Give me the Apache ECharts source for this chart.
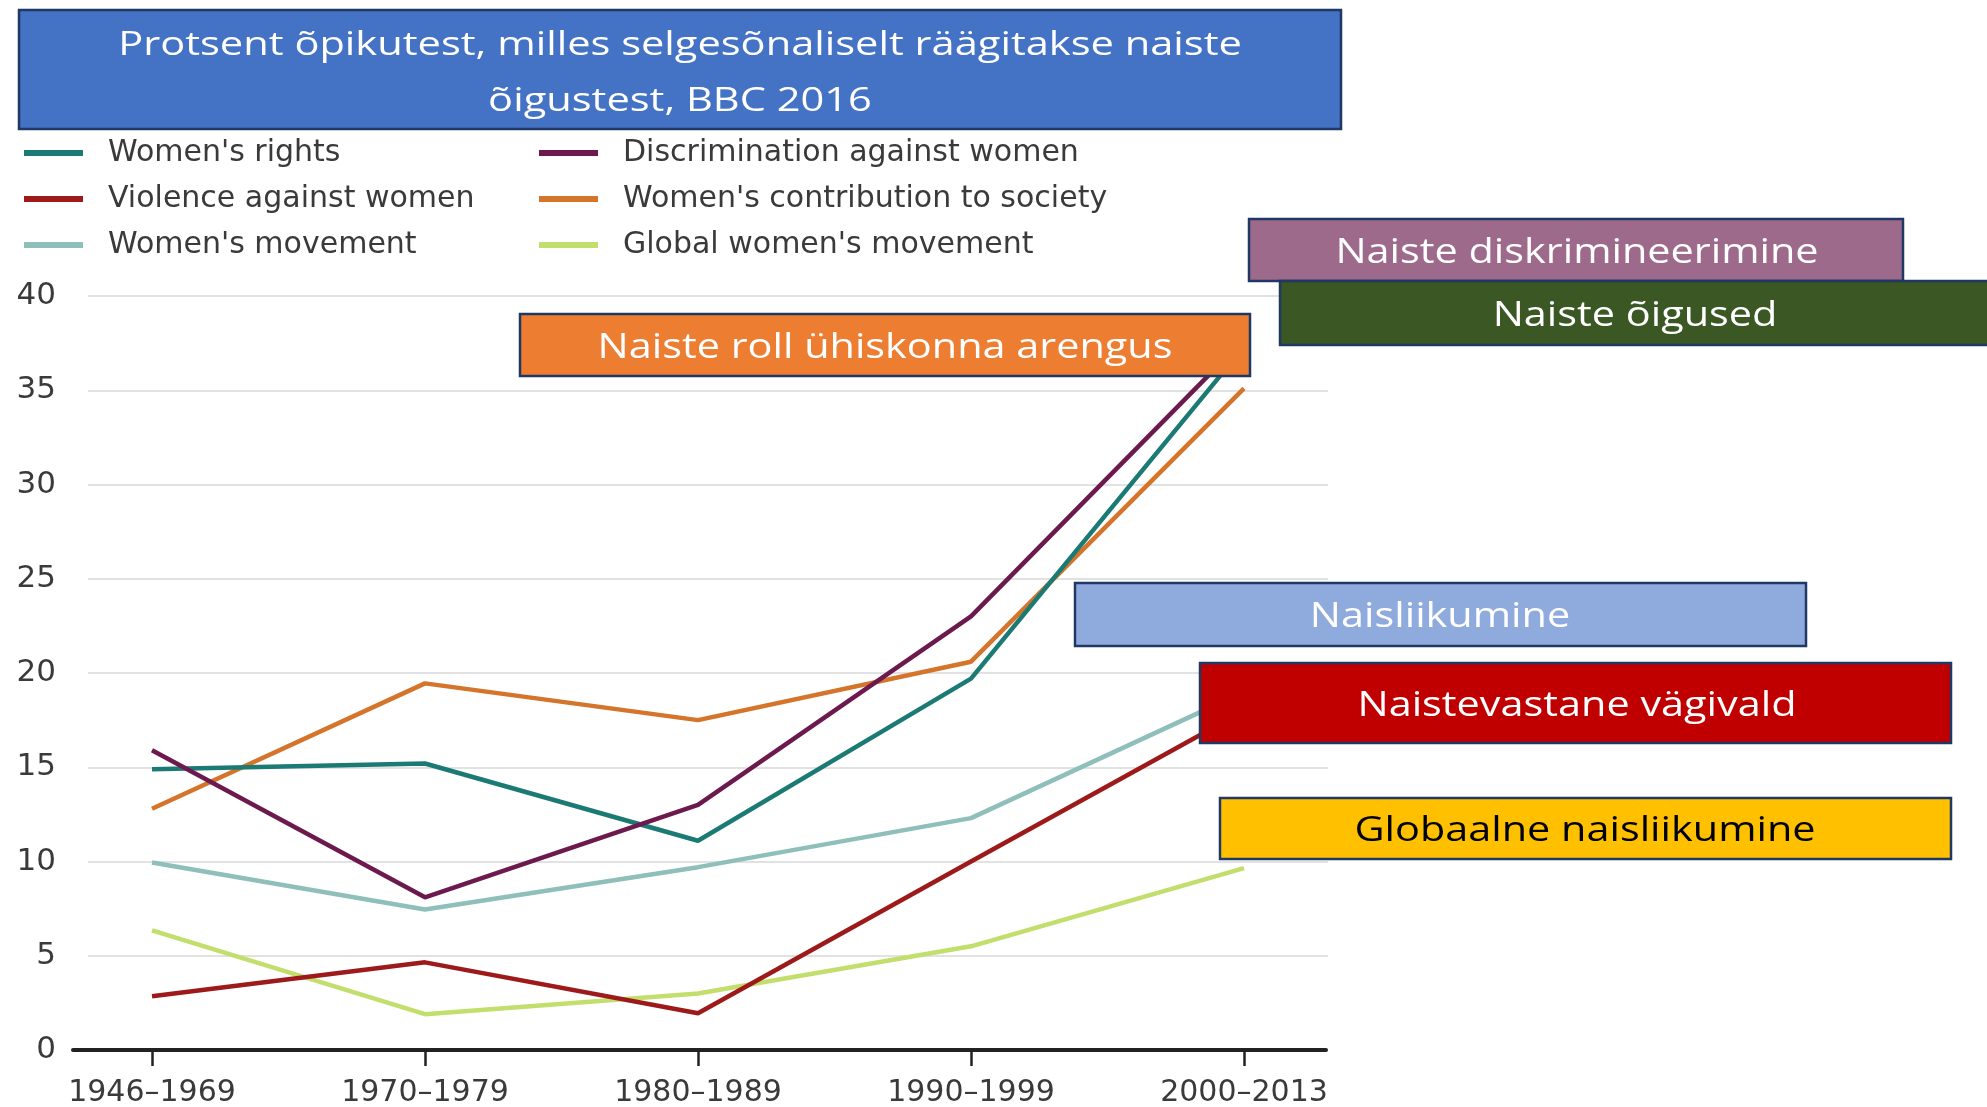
<!DOCTYPE html>
<html>
<head>
<meta charset="utf-8">
<script src="https://cdn.jsdelivr.net/npm/echarts@6/dist/echarts.min.js"></script>
<style>
  html, body { margin: 0; padding: 0; background: #fff; }
  #chart { width: 1987px; height: 1107px; }
</style>
</head>
<body>
<div id="chart"></div>
<script>
// andmed
const periods = ['1946–1969', '1970–1979', '1980–1989', '1990–1999', '2000–2013']
const womensRights = [14.9, 15.2, 11.1, 19.7, 37.3]
const discrimination = [15.9, 8.1, 13.0, 23.0, 37.7]
const violence = [2.85, 4.65, 1.95, 10.0, 18.0]
const contribution = [12.8, 19.45, 17.5, 20.6, 35.1]
const movement = [9.95, 7.45, 9.7, 12.3, 19.0]
const globalMovement = [6.35, 1.9, 3.0, 5.5, 9.65]
const yTicks = [0, 5, 10, 15, 20, 25, 30, 35, 40]

const titleLines = ['Protsent õpikutest, milles selgesõnaliselt räägitakse naiste', 'õigustest, BBC 2016']
const boxLabels = [
  'Naiste roll ühiskonna arengus',
  'Naiste diskrimineerimine',
  'Naiste õigused',
  'Naisliikumine',
  'Naistevastane vägivald',
  'Globaalne naisliikumine',
]

const chart = echarts.init(document.getElementById('chart'))
const textFont = 'DejaVu Sans'
const boxFont = 'Open Sans'
const border = '#1f3864'

function line(name, data, color) {
  return {
    name,
    type: 'line',
    xAxisIndex: 2,
    yAxisIndex: 2,
    data,
    symbol: 'none',
    smooth: false,
    lineStyle: { color, width: 4.5 },
    itemStyle: { color },
    emphasis: { disabled: true },
  }
}

// venitatud tekst (slaidil on pilt laiuti venitatud)
function label(text, x, y, size, fill, sx) {
  return {
    type: 'text',
    z: 101,
    x,
    y,
    scaleX: sx,
    style: {
      text, fill, fontFamily: boxFont, fontSize: size,
      align: 'center', verticalAlign: 'middle',
    },
  }
}

// kast + tekst
function box(text, x, y, w, h, fill, txt, cx) {
  return {
    type: 'group',
    z: 100,
    children: [
      {
        type: 'rect',
        z: 100,
        shape: { x, y, width: w, height: h },
        style: { fill, stroke: border, lineWidth: 2.5 },
      },
      label(text, cx, y + h / 2 + 3, 34.5, txt, 1.2),
    ],
  }
}

const commonGrid = { top: 296, bottom: 57, outerBoundsMode: 'none', containLabel: false }
const legendText = { fontFamily: textFont, fontSize: 30, color: '#3a3a3a', lineHeight: 30, padding: [0, 0, 0, 20] }

const option = {
  animation: false,
  backgroundColor: '#fff',
  grid: [
    { ...commonGrid, left: 88, right: 659 },
    { ...commonGrid, left: 73, right: 661 },
    { ...commonGrid, left: 152, right: 743 },
  ],
  legend: [
    {
      orient: 'vertical',
      left: 24,
      top: 138,
      padding: 0,
      icon: 'rect',
      itemWidth: 59,
      itemHeight: 6,
      itemGap: 16,
      data: ["Women's rights", 'Violence against women', "Women's movement"],
      textStyle: legendText,
    },
    {
      orient: 'vertical',
      left: 539,
      top: 138,
      padding: 0,
      icon: 'rect',
      itemWidth: 59,
      itemHeight: 6,
      itemGap: 16,
      data: ['Discrimination against women', "Women's contribution to society", "Global women's movement"],
      textStyle: legendText,
    },
  ],
  xAxis: [
    { gridIndex: 0, type: 'value', min: 0, max: 1, show: false },
    {
      gridIndex: 1, type: 'value', min: 0, max: 1,
      axisLine: { show: true, lineStyle: { color: '#222', width: 4 } },
      axisTick: { show: false }, axisLabel: { show: false }, splitLine: { show: false },
    },
    {
      gridIndex: 2,
      type: 'category',
      data: periods,
      boundaryGap: false,
      axisLine: { show: false },
      axisTick: { show: true, length: 16, lineStyle: { color: '#222', width: 2.5 } },
      axisLabel: { fontFamily: textFont, fontSize: 30, color: '#3a3a3a', margin: 28, interval: 0 },
      splitLine: { show: false },
    },
  ],
  yAxis: [
    {
      gridIndex: 0,
      type: 'value',
      min: yTicks[0],
      max: yTicks[yTicks.length - 1],
      interval: 5,
      axisLine: { show: false },
      axisTick: { show: false },
      axisLabel: { fontFamily: textFont, fontSize: 31, color: '#3a3a3a', margin: 32 },
      splitLine: { lineStyle: { color: '#e2e2e2', width: 2 } },
    },
    { gridIndex: 1, type: 'value', min: 0, max: 40, show: false },
    { gridIndex: 2, type: 'value', min: 0, max: 40, show: false },
  ],
  series: [
    line("Women's movement", movement, '#8fbfbb'),
    line("Global women's movement", globalMovement, '#c2de6c'),
    line('Violence against women', violence, '#9e1a1a'),
    line("Women's contribution to society", contribution, '#d5742b'),
    line("Women's rights", womensRights, '#1c7a74'),
    line('Discrimination against women', discrimination, '#6c1a4e'),
  ],
  graphic: [
    {
      type: 'group',
      z: 100,
      children: [
        {
          type: 'rect', z: 100,
          shape: { x: 19, y: 10, width: 1322, height: 119 },
          style: { fill: '#4472c4', stroke: border, lineWidth: 2.5 },
        },
        label(titleLines[0], 680, 46, 32, '#fff', 1.3),
        label(titleLines[1], 680, 102, 32, '#fff', 1.3),
      ],
    },
    box(boxLabels[0], 520, 314, 730, 62, '#ed7d31', '#fff', 885),
    box(boxLabels[1], 1249, 219, 654, 62, '#9d6a8b', '#fff', 1577),
    box(boxLabels[2], 1280, 281, 720, 64, '#3a5724', '#fff', 1635),
    box(boxLabels[3], 1075, 583, 731, 63, '#8faadc', '#fff', 1440),
    box(boxLabels[4], 1200, 663, 751, 80, '#c00000', '#fff', 1577),
    box(boxLabels[5], 1220, 798, 731, 61, '#ffc000', '#000', 1585),
  ],
}

chart.setOption(option)
</script>
</body>
</html>
